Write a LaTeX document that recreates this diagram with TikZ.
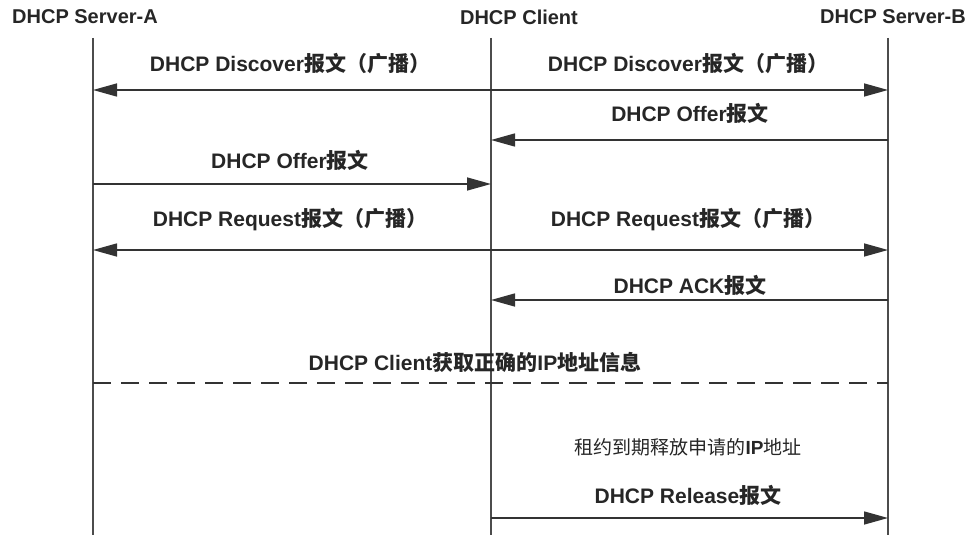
\documentclass[tikz,border=0pt]{standalone}
\usepackage{fontspec}
\setmainfont{Liberation Sans}
\newfontfamily\cjk{Noto Sans CJK SC}
\newcommand{\zh}[1]{{\cjk #1}}
\usetikzlibrary{arrows.meta}
\begin{document}
\begin{tikzpicture}[x=1pt,y=-1pt,
  lbl/.style={font=\fontsize{21}{24}\selectfont\bfseries, text=black!85},
  hdr/.style={font=\fontsize{20}{24}\selectfont\bfseries, text=black!85},
  life/.style={line width=1.2pt, draw=black!70},
  msg/.style={line width=1.5pt, draw=black!80, -{Triangle[length=24pt,width=13pt]}},
]
\useasboundingbox (0,0) rectangle (979,540);
\fill[white] (0,0) rectangle (979,540);
\node[hdr] (ha) at (85,17) {DHCP Server-A};
\node[hdr] (hc) at (519,17) {DHCP Client};
\node[hdr] (hb) at (893,17) {DHCP Server-B};
\coordinate (a0) at (93,38); \coordinate (a1) at (93,535);
\coordinate (c0) at (491,38); \coordinate (c1) at (491,535);
\coordinate (b0) at (888,38); \coordinate (b1) at (888,535);
\draw[life] (a0) -- (a1);
\draw[life] (c0) -- (c1);
\draw[life] (b0) -- (b1);
% rows
\foreach \n/\y in {1/90,2/140,3/184,4/250,5/300,6/383,8/518}{
  \coordinate (a\n) at (93,\y); \coordinate (c\n) at (491,\y); \coordinate (b\n) at (888,\y);}
\draw[msg] (c1) -- (a1);
\draw[msg] (c1) -- (b1);
\node[lbl] (l1a) at (290,64) {DHCP Discover\zh{报文（广播）}};
\node[lbl] (l1b) at (688,64) {DHCP Discover\zh{报文（广播）}};
\draw[msg] (b2) -- (c2);
\node[lbl] (l2) at (690,113) {DHCP Offer\zh{报文}};
\draw[msg] (a3) -- (c3);
\node[lbl] (l3) at (290,160) {DHCP Offer\zh{报文}};
\draw[msg] (c4) -- (a4);
\draw[msg] (c4) -- (b4);
\node[lbl] (l4a) at (290,220) {DHCP Request\zh{报文（广播）}};
\node[lbl] (l4b) at (688,220) {DHCP Request\zh{报文（广播）}};
\draw[msg] (b5) -- (c5);
\node[lbl] (l5) at (690,285) {DHCP ACK\zh{报文}};
\draw[line width=1.8pt, draw=black!80, dash pattern=on 18pt off 10pt] (a6) -- (b6);
\node[lbl] (l6) at (475,362) {DHCP Client\zh{获取正确的}IP\zh{地址信息}};
\node[font=\fontsize{19}{22}\selectfont, text=black!85] (l7) at (688,447) {\zh{租约到期释放申请的}\textbf{IP}\zh{地址}};
\draw[msg] (c8) -- (b8);
\node[lbl] (l8) at (688,495) {DHCP Release\zh{报文}};
\end{tikzpicture}
\end{document}
